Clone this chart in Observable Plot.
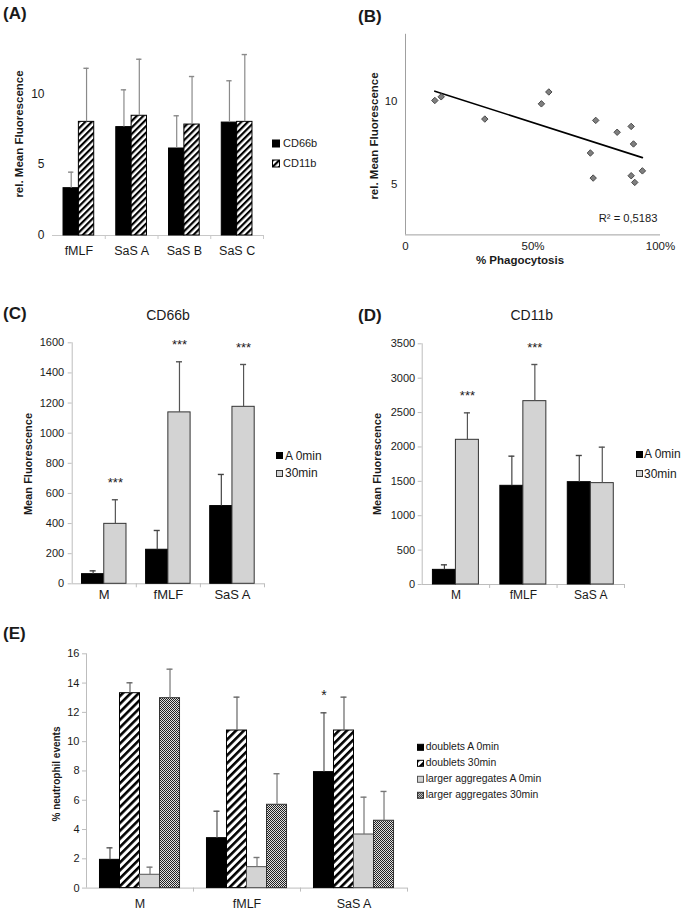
<!DOCTYPE html>
<html>
<head>
<meta charset="utf-8">
<script src="https://cdn.jsdelivr.net/npm/d3@7"></script>
<script src="https://cdn.jsdelivr.net/npm/@observablehq/plot@0.6"></script>
<style>
  body { margin: 0; background: #fff; }
  #fig { position: relative; width: 684px; height: 910px; overflow: hidden; background: #fff; }
</style>
</head>
<body>
<svg width="0" height="0" style="position:absolute;left:0;top:0">
  <defs>
    <pattern id="hatchA" patternUnits="userSpaceOnUse" width="4.6" height="4.6" patternTransform="rotate(45)">
      <rect width="4.6" height="4.6" fill="#fff"/>
      <rect width="2.2" height="4.6" fill="#000"/>
    </pattern>
    <pattern id="hatchE" patternUnits="userSpaceOnUse" width="5.6" height="5.6" patternTransform="rotate(45)">
      <rect width="5.6" height="5.6" fill="#fff"/>
      <rect width="2.6" height="5.6" fill="#000"/>
    </pattern>
    <pattern id="dots" patternUnits="userSpaceOnUse" width="2" height="2">
      <rect width="2" height="2" fill="#e0e0e0"/>
      <rect width="1" height="1" fill="#222"/>
      <rect x="1" y="1" width="1" height="1" fill="#222"/>
    </pattern>
  </defs>
</svg>
<div id="fig"></div>
<script>
// ---------------- DATA ----------------
// Panel A
const aCategories = ["fMLF", "SaS A", "SaS B", "SaS C"];
const aSeries = ["CD66b", "CD11b"];
const aCD66b = [3.34, 7.65, 6.14, 7.97];
const aCD66bSD = [1.13, 2.63, 2.31, 2.95];
const aCD11b = [8.02, 8.45, 7.83, 8.02];
const aCD11bSD = [3.78, 3.99, 3.39, 4.75];
const aYTicks = [0, 5, 10];

// Panel B
const bPhagocytosis = [0.115, 0.140, 0.311, 0.533, 0.562, 0.725, 0.736, 0.746, 0.830, 0.885, 0.894, 0.885, 0.899, 0.929];
const bFluorescence = [10.04, 10.26, 8.93, 9.84, 10.55, 6.90, 5.40, 8.85, 8.14, 8.49, 7.44, 5.54, 5.14, 5.83];
const bXTicks = [0, 0.5, 1];
const bYTicks = [5, 10];
const bR2 = "R² = 0,5183";

// Panel C (CD66b)
const cdCategories = ["M", "fMLF", "SaS A"];
const cdSeries = ["A 0min", "30min"];
const c0 = [64, 226, 516];
const c0SD = [22, 128, 210];
const c30 = [398, 1138, 1175];
const c30SD = [160, 336, 281];
const c30Sig = ["***", "***", "***"];
const cYTicks = [0, 200, 400, 600, 800, 1000, 1200, 1400, 1600];

// Panel D (CD11b)
const d0 = [213, 1435, 1488];
const d0SD = [73, 431, 388];
const d30 = [2104, 2666, 1474];
const d30SD = [392, 533, 523];
const d30Sig = ["***", "***", ""];
const dYTicks = [0, 500, 1000, 1500, 2000, 2500, 3000, 3500];

// Panel E
const eCategories = ["M", "fMLF", "SaS A"];
const eSeries = ["doublets A 0min", "doublets 30min", "larger aggregates A 0min", "larger aggregates 30min"];
const eDoublets0 = [1.93, 3.41, 7.92];
const eDoublets0SD = [0.82, 1.84, 4.05];
const eDoublets30 = [13.31, 10.76, 10.76];
const eDoublets30SD = [0.71, 2.28, 2.28];
const eLarger0 = [0.91, 1.43, 3.66];
const eLarger0SD = [0.52, 0.66, 2.55];
const eLarger30 = [12.97, 5.69, 4.60];
const eLarger30SD = [1.98, 2.12, 2.00];
const eDoublets0Sig = ["", "", "*"];
const eYTicks = [0, 2, 4, 6, 8, 10, 12, 14, 16];

// ---------------- HELPERS ----------------
const FONT = '"Liberation Sans", Arial, Helvetica, sans-serif';
const fig = document.getElementById("fig");

function addText(str, x, y, {size = 12, weight = "normal", align = "left", rotate = false, color = "#1a1a1a"} = {}) {
  const d = document.createElement("div");
  d.textContent = str;
  d.style.cssText = `position:absolute;left:${x}px;top:${y}px;font-family:${FONT};font-size:${size}px;font-weight:${weight};line-height:1;white-space:nowrap;color:${color};`;
  const tx = align === "center" ? "-50%" : align === "right" ? "-100%" : "0";
  d.style.transform = `translate(${tx},-50%)` + (rotate ? " rotate(-90deg)" : "");
  fig.appendChild(d);
}

function addLegend(items, x, y0, dy, {size = 11, sw = 7, sh = 7, gap = 3} = {}) {
  items.forEach((it, i) => {
    const d = document.createElement("div");
    d.style.cssText = `position:absolute;left:${x}px;top:${y0 + i * dy}px;transform:translateY(-50%);display:flex;align-items:center;font-family:${FONT};font-size:${size}px;line-height:1;white-space:nowrap;color:#1a1a1a;`;
    d.innerHTML = `<svg width="${sw}" height="${sh}" style="display:block;margin-right:${gap}px;overflow:visible"><rect x="0.5" y="0.5" width="${sw - 1}" height="${sh - 1}" fill="${it.fill}" stroke="${it.stroke}"/></svg><span>${it.label}</span>`;
    fig.appendChild(d);
  });
}

function placeSvg(svg, left, top) {
  svg.style.position = "absolute";
  svg.style.left = left + "px";
  svg.style.top = top + "px";
  svg.style.maxWidth = "none";
  fig.appendChild(svg);
}

function groupedBars(o) {
  const nC = o.cats.length;
  const rows = [];
  o.series.forEach((s, si) => o.cats.forEach((c, ci) => {
    const x1 = ci + o.offset + si * o.barW;
    rows.push({
      si, cat: c, series: s, x1, x2: x1 + o.barW, xm: x1 + o.barW / 2,
      value: o.values[si][ci], top: o.values[si][ci] + o.sds[si][ci],
      sig: o.sigs && o.sigs[si] ? o.sigs[si][ci] : ""
    });
  }));
  const marks = [Plot.ruleY([0], {stroke: o.axisColor})];
  if (o.yLine) marks.push(Plot.ruleX([0], {stroke: o.axisColor}));
  marks.push(Plot.axisY(o.yTicks, {tickSize: o.yTickSize, tickPadding: o.yTickPadding, tickFormat: d3.format("d"), stroke: o.axisColor, fill: "#1a1a1a", fontSize: o.yFont, label: null}));
  marks.push(Plot.axisX(d3.range(1, nC + 1), {tickSize: 4, tickFormat: () => "", stroke: o.axisColor, label: null}));
  marks.push(Plot.axisX(o.cats.map((c, i) => i + 0.5), {tickSize: 0, tickPadding: o.xTickPadding, tickFormat: v => o.cats[Math.floor(v)], fontSize: o.xFont, fill: "#1a1a1a", label: null}));
  o.series.forEach((s, si) => {
    marks.push(Plot.rectY(rows.filter(d => d.si === si), {x1: "x1", x2: "x2", y: "value", fill: o.fills[si], stroke: o.strokes[si], strokeWidth: 1}));
  });
  o.series.forEach((s, si) => {
    const r = rows.filter(d => d.si === si);
    marks.push(Plot.ruleX(r, {x: "xm", y1: "value", y2: "top", stroke: o.errColors[si], strokeWidth: 1.2}));
    marks.push(Plot.ruleY(r, {y: "top", x1: d => d.xm - o.cap, x2: d => d.xm + o.cap, stroke: o.errColors[si], strokeWidth: 1.4}));
  });
  marks.push(Plot.text(rows.filter(d => d.sig), {x: "xm", y: "top", text: "sig", dy: o.sigDy, fontSize: o.sigFont, fill: "#1a1a1a"}));
  return Plot.plot({
    width: o.width, height: o.height,
    marginLeft: o.ml, marginRight: o.mr, marginTop: o.mt, marginBottom: o.mb,
    x: {domain: [0, nC]},
    y: {domain: o.yDomain},
    style: {fontFamily: FONT, color: "#1a1a1a", background: "transparent", overflow: "visible"},
    marks
  });
}

// ---------------- PANEL A ----------------
placeSvg(groupedBars({
  cats: aCategories, series: aSeries,
  values: [aCD66b, aCD11b], sds: [aCD66bSD, aCD11bSD],
  fills: ["#000", "url(#hatchA)"], strokes: ["#000", "#000"], errColors: ["#8a8a8a", "#8a8a8a"],
  offset: 0.209, barW: 0.291, cap: 0.05,
  yDomain: [0, 13], yTicks: aYTicks, yTickSize: 0, yTickPadding: 8, yFont: 12, yLine: false,
  xFont: 12.5, xTickPadding: 11, axisColor: "#c8c8c8",
  width: 340, height: 240, ml: 52, mr: 77, mt: 20.8, mb: 35
}), 0, 30);
addText("(A)", 3, 12.5, {size: 17, weight: "bold"});
addText("rel. Mean Fluorescence", 20, 134, {size: 11.5, weight: "bold", align: "center", rotate: true});
addLegend(aSeries.map((s, i) => ({label: s, fill: i === 0 ? "#000" : "url(#hatchA)", stroke: "#000"})), 272, 143.3, 20, {size: 11, sw: 8, sh: 8, gap: 3});

// ---------------- PANEL B ----------------
const bData = bPhagocytosis.map((x, i) => ({phago: x, fluor: bFluorescence[i]}));
placeSvg(Plot.plot({
  width: 344, height: 240,
  marginLeft: 65, marginRight: 24, marginTop: 3.8, marginBottom: 35.6,
  x: {domain: [0, 1]},
  y: {domain: [2, 14]},
  style: {fontFamily: FONT, color: "#1a1a1a", background: "transparent", overflow: "visible"},
  marks: [
    Plot.ruleX([0], {stroke: "#a0a0a0"}),
    Plot.ruleY([2], {stroke: "#a0a0a0"}),
    Plot.axisY(bYTicks, {tickSize: 0, tickPadding: 8, fontSize: 11.5, label: null}),
    Plot.axisX(bXTicks, {tickSize: 0, tickPadding: 7, fontSize: 11.5, label: null, tickFormat: v => v === 0 ? "0" : d3.format(".0%")(v)}),
    Plot.linearRegressionY(bData, {x: "phago", y: "fluor", stroke: "#000", strokeWidth: 1.6, ci: 0}),
    Plot.dot(bData, {x: "phago", y: "fluor", symbol: "diamond2", r: 2.9, fill: "#7f7f7f", stroke: "#4a4a4a", strokeWidth: 1}),
    Plot.text([bR2], {frameAnchor: "bottom-right", textAnchor: "end", dx: -3, dy: -12.7, fontSize: 11.2, fill: "#1a1a1a"})
  ]
}), 340, 30);
addText("(B)", 358, 16, {size: 17, weight: "bold"});
addText("rel. Mean Fluorescence", 375, 136, {size: 11.5, weight: "bold", align: "center", rotate: true});
addText("% Phagocytosis", 520, 261, {size: 11.5, weight: "bold", align: "center"});

// ---------------- PANEL C ----------------
placeSvg(groupedBars({
  cats: cdCategories, series: cdSeries,
  values: [c0, c30], sds: [c0SD, c30SD], sigs: [null, c30Sig],
  fills: ["#000", "#d3d3d3"], strokes: ["#000", "#333"], errColors: ["#444", "#555"],
  offset: 0.153, barW: 0.347, cap: 0.047, sigDy: -17, sigFont: 13,
  yDomain: [0, 1600], yTicks: cYTicks, yTickSize: 4, yTickPadding: 4, yFont: 11, yLine: true,
  xFont: 13, xTickPadding: 6, axisColor: "#bdbdbd",
  width: 340, height: 280, ml: 71.7, mr: 76, mt: 12.3, mb: 26.7
}), 0, 330);
addText("(C)", 3, 312.5, {size: 17, weight: "bold"});
addText("CD66b", 168, 315, {size: 14, align: "center"});
addText("Mean Fluorescence", 28, 464, {size: 11, weight: "bold", align: "center", rotate: true});
addLegend(cdSeries.map((s, i) => ({label: s, fill: i === 0 ? "#000" : "#d3d3d3", stroke: i === 0 ? "#000" : "#333"})), 276, 455.5, 17.5, {size: 12, sw: 7, sh: 7, gap: 2});

// ---------------- PANEL D ----------------
placeSvg(groupedBars({
  cats: cdCategories, series: cdSeries,
  values: [d0, d30], sds: [d0SD, d30SD], sigs: [null, d30Sig],
  fills: ["#000", "#d3d3d3"], strokes: ["#000", "#333"], errColors: ["#444", "#555"],
  offset: 0.159, barW: 0.341, cap: 0.045, sigDy: -17, sigFont: 13,
  yDomain: [0, 3500], yTicks: dYTicks, yTickSize: 4, yTickPadding: 3, yFont: 11, yLine: true,
  xFont: 12, xTickPadding: 6, axisColor: "#bdbdbd",
  width: 344, height: 280, ml: 81.7, mr: 60, mt: 13.3, mb: 26
}), 340, 330);
addText("(D)", 358, 314.5, {size: 17, weight: "bold"});
addText("CD11b", 531.7, 315, {size: 14, align: "center"});
addText("Mean Fluorescence", 376.7, 464, {size: 11, weight: "bold", align: "center", rotate: true});
addLegend(cdSeries.map((s, i) => ({label: s, fill: i === 0 ? "#000" : "#d3d3d3", stroke: i === 0 ? "#000" : "#333"})), 636, 454, 19.7, {size: 12, sw: 7, sh: 7, gap: 1});

// ---------------- PANEL E ----------------
const eFills = ["#000", "url(#hatchE)", "#d3d3d3", "url(#dots)"];
const eStrokes = ["#000", "#000", "#555", "#333"];
placeSvg(groupedBars({
  cats: eCategories, series: eSeries,
  values: [eDoublets0, eDoublets30, eLarger0, eLarger30],
  sds: [eDoublets0SD, eDoublets30SD, eLarger0SD, eLarger30SD],
  sigs: [eDoublets0Sig, null, null, null],
  fills: eFills, strokes: eStrokes, errColors: ["#555", "#666", "#777", "#777"],
  offset: 0.126, barW: 0.187, cap: 0.028, sigDy: -17, sigFont: 14,
  yDomain: [0, 16], yTicks: eYTicks, yTickSize: 4, yTickPadding: 3, yFont: 11, yLine: true,
  xFont: 12.5, xTickPadding: 11, axisColor: "#bdbdbd",
  width: 684, height: 270, ml: 86, mr: 277, mt: 13.3, mb: 22.4
}), 0, 640);
addText("(E)", 3, 633, {size: 17, weight: "bold"});
addText("% neutrophil events", 56.7, 774, {size: 10, weight: "bold", align: "center", rotate: true});
addLegend(eSeries.map((s, i) => ({label: s, fill: eFills[i], stroke: eStrokes[i]})), 416.7, 747.3, 15.9, {size: 10.4, sw: 7, sh: 7, gap: 2});
</script>
</body>
</html>
